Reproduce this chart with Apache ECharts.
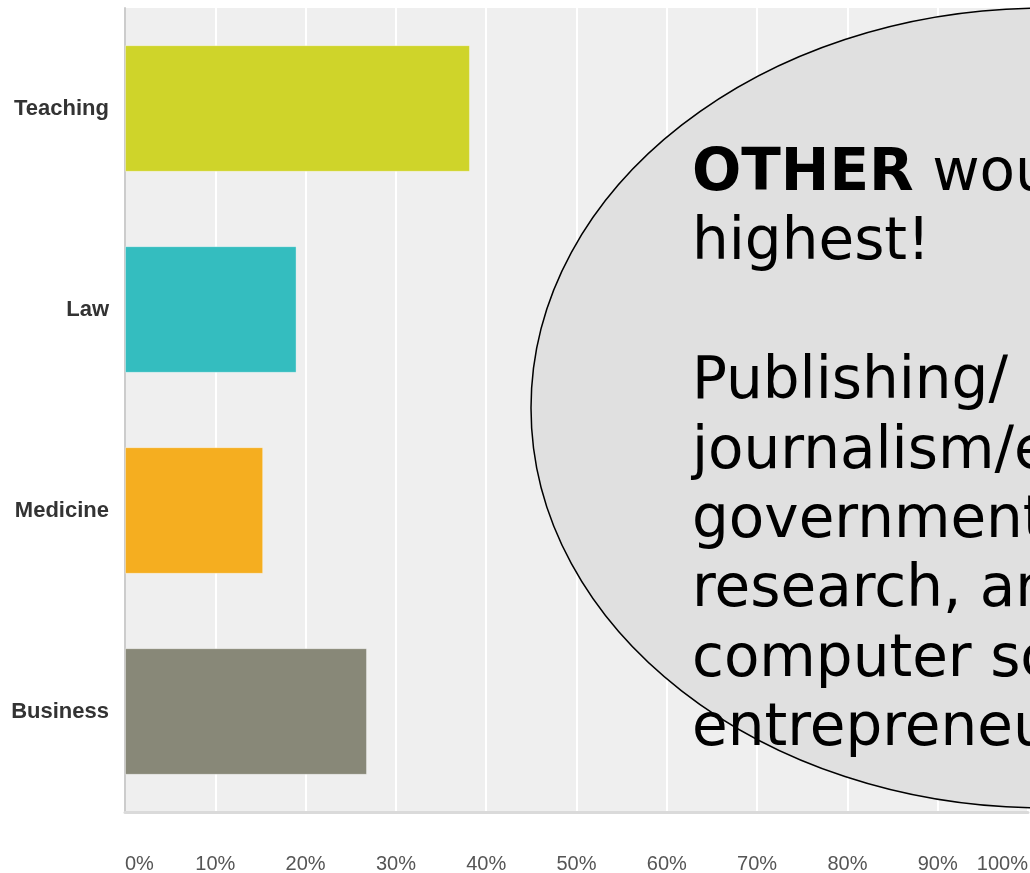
<!DOCTYPE html>
<html>
<head>
<meta charset="utf-8">
<script src="https://cdn.jsdelivr.net/npm/echarts@6/dist/echarts.min.js"></script>
<style>
html,body{margin:0;padding:0;background:#fff;}
#c{width:1030px;height:873px;}
</style>
</head>
<body>
<div id="c"></div>
<script>
// ---- data ----
const categories = ['Teaching', 'Law', 'Medicine', 'Business'];
const values = [38.2, 19.0, 15.3, 26.8];
const barColors = ['#cfd42a', '#34bdbf', '#f5ae20', '#888878'];
const tickValues = [0, 10, 20, 30, 40, 50, 60, 70, 80, 90, 100];
const noteLines = [
  '{b|OTHER} would be the',
  'highest!',
  '',
  'Publishing/',
  'journalism/editing,',
  'government,',
  'research, and',
  'computer science/',
  'entrepreneurship'
];

const chart = echarts.init(document.getElementById('c'), null, {renderer: 'canvas'});

const textFont = 'DejaVu Sans, Verdana, sans-serif';
const noteGraphics = [];
noteLines.forEach((ln, i) => {
  if (!ln) return;
  noteGraphics.push({
    type: 'text',
    x: 692,
    y: 175 + i * 69.4,
    z: 101,
    silent: true,
    style: {
      text: ln,
      fontSize: 58,
      fontFamily: textFont,
      fill: '#000',
      verticalAlign: 'middle',
      align: 'left',
      rich: {
        b: {fontSize: 58, fontFamily: textFont, fontWeight: 'bold', fill: '#000'}
      }
    }
  });
});

const option = {
  animation: false,
  backgroundColor: '#ffffff',
  grid: {
    left: 125, right: 2, top: 8, bottom: 61,
    containLabel: false,
    outerBoundsMode: 'none',
    show: true, backgroundColor: '#efefef', borderWidth: 0
  },
  xAxis: {
    type: 'value',
    min: 0, max: 100, interval: 10,
    axisLine: {show: true, onZero: false, lineStyle: {color: '#dadada', width: 3}},
    axisTick: {show: false},
    splitLine: {show: true, lineStyle: {color: '#ffffff', width: 2}},
    axisLabel: {
      margin: 42,
      color: '#555',
      fontSize: 20,
      fontFamily: 'Liberation Sans, Arial, sans-serif',
      formatter: v => tickValues.includes(v) ? v + '%' : '',
      alignMinLabel: 'left',
      alignMaxLabel: 'right'
    }
  },
  yAxis: {
    type: 'category',
    data: categories,
    inverse: true,
    axisLine: {show: true, lineStyle: {color: '#cccccc', width: 2}},
    axisTick: {show: false},
    splitLine: {show: false},
    axisLabel: {
      margin: 16,
      color: '#333',
      fontSize: 22,
      fontWeight: 'bold',
      fontFamily: 'Liberation Sans, Arial, sans-serif'
    }
  },
  series: [{
    type: 'bar',
    data: values.map((v, i) => ({value: v, itemStyle: {color: barColors[i]}})),
    barCategoryGap: '37%',
    itemStyle: {borderColor: 'rgba(255,255,255,0.35)', borderWidth: 1},
    z: 2
  }],
  graphic: [
    {
      type: 'ellipse',
      z: 100,
      silent: true,
      shape: {cx: 1045, cy: 408, rx: 514, ry: 400},
      style: {fill: '#e0e0e0', stroke: '#000', lineWidth: 1.5}
    }
  ].concat(noteGraphics)
};

chart.setOption(option);
</script>
</body>
</html>
